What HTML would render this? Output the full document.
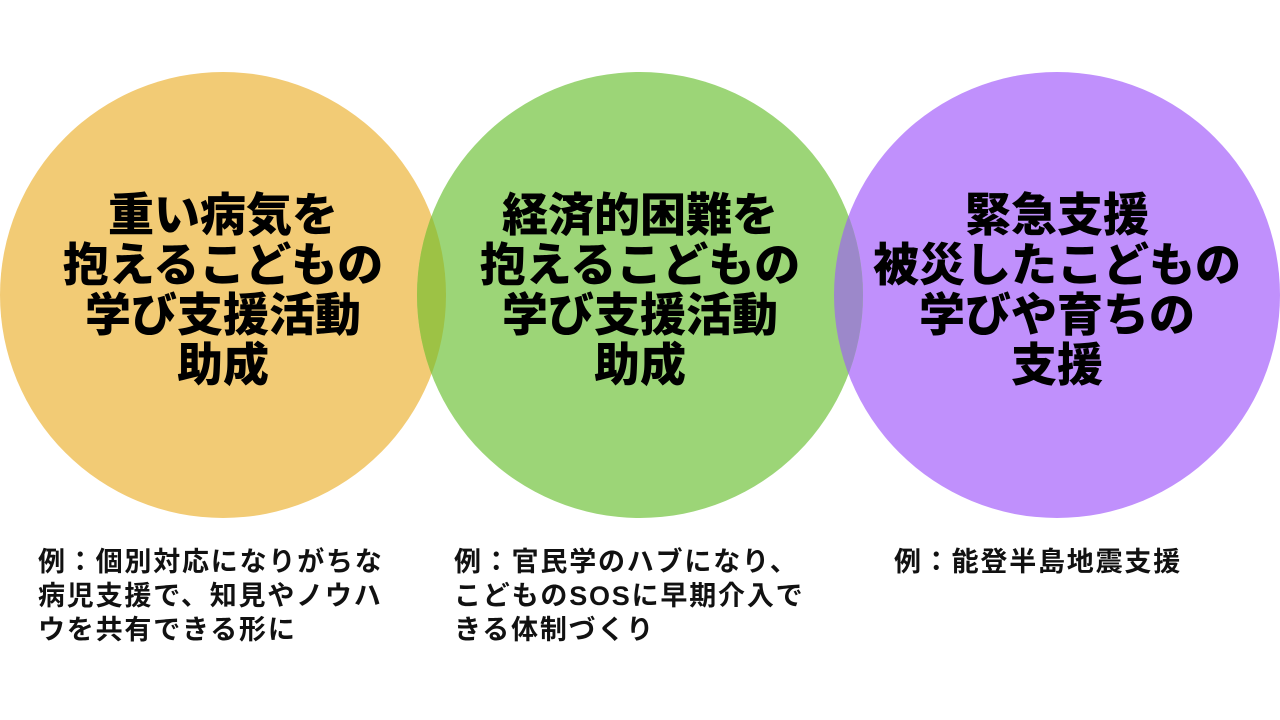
<!DOCTYPE html>
<html><head><meta charset="utf-8"><style>
body{margin:0;width:1280px;height:720px;background:#fff;overflow:hidden;position:relative;font-family:"Liberation Sans","Noto Sans CJK JP",sans-serif}
svg{position:absolute;left:0;top:0}
.t{position:absolute;text-align:center;font-weight:900;font-size:46px;line-height:50px;color:#000;width:460px}
.b{position:absolute;font-weight:bold;font-size:27px;letter-spacing:1.8px;line-height:34px;color:#111;white-space:nowrap}
</style></head><body>
<svg width="1280" height="720">
<defs>
<clipPath id="cL"><circle cx="223" cy="295" r="223"/></clipPath>
<clipPath id="cR"><circle cx="1057" cy="295" r="223"/></clipPath>
</defs>
<circle cx="223" cy="295" r="223" fill="#F2CB75"/>
<circle cx="1057" cy="295" r="223" fill="#C090FC"/>
<circle cx="640" cy="295" r="223" fill="#9CD577"/>
<circle cx="640" cy="295" r="223" fill="#9DC245" clip-path="url(#cL)"/>
<circle cx="640" cy="295" r="223" fill="#9C88CA" clip-path="url(#cR)"/>
</svg>
<div class="t" style="left:-7px;top:190px">重い病気を<br>抱えるこどもの<br>学び支援活動<br>助成</div>
<div class="t" style="left:410px;top:190px">経済的困難を<br>抱えるこどもの<br>学び支援活動<br>助成</div>
<div class="t" style="left:827px;top:190px">緊急支援<br>被災したこどもの<br>学びや育ちの<br>支援</div>
<div class="b" style="left:38px;top:545px">例：個別対応になりがちな<br>病児支援で、知見やノウハ<br>ウを共有できる形に</div>
<div class="b" style="left:454px;top:545px">例：官民学のハブになり、<br>こどものSOSに早期介入で<br>きる体制づくり</div>
<div class="b" style="left:894px;top:545px">例：能登半島地震支援</div>
</body></html>
